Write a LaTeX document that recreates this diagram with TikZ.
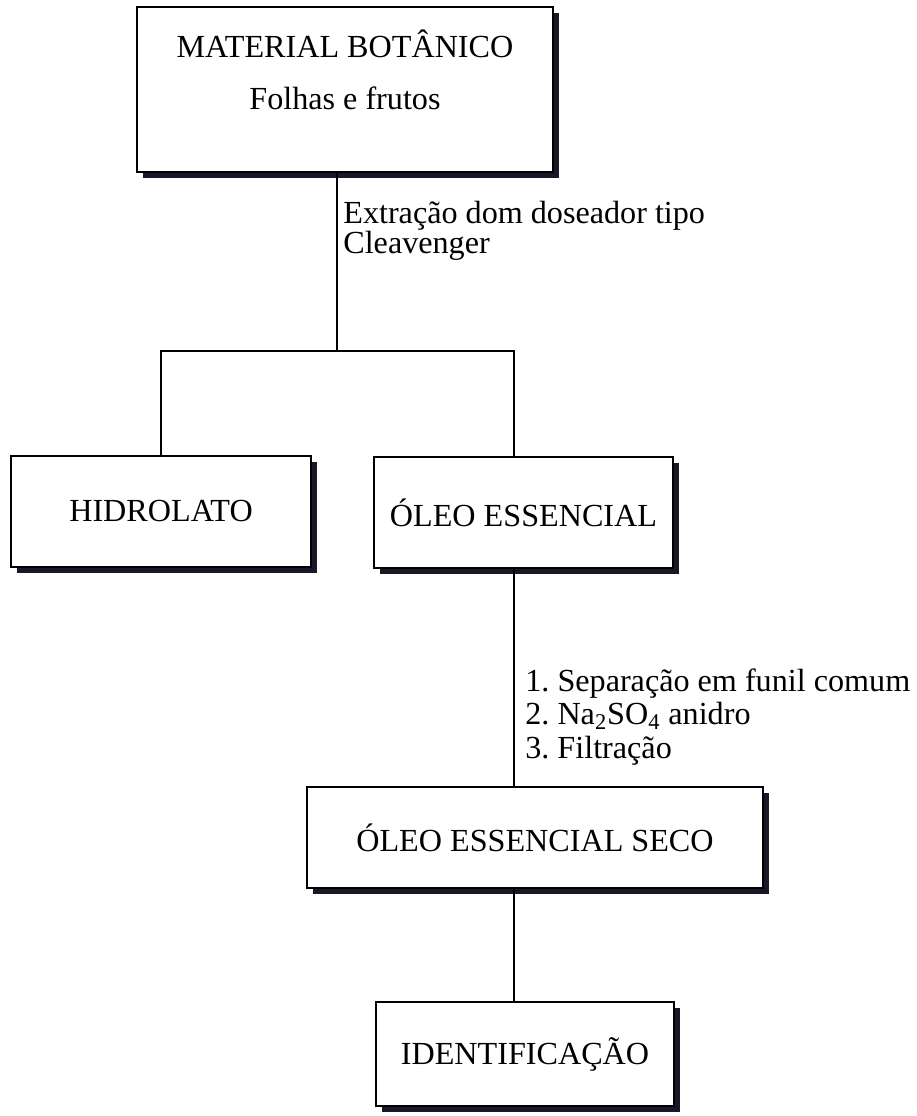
\documentclass[tikz,border=0pt]{standalone}
\usepackage{fontspec}
\setmainfont{Liberation Serif}
\usetikzlibrary{shadows}
\definecolor{shadowink}{RGB}{24,24,40}

\begin{document}
\begin{tikzpicture}[
    every node/.style={font=\fontsize{18.3}{17.6}\selectfont\frenchspacing},
    procbox/.style={draw=black,fill=white,line width=0.9pt,align=center,
        drop shadow={shadow xshift=0.12cm,shadow yshift=-0.12cm,
                     fill=shadowink,opacity=1}},
    note/.style={anchor=base west,align=left,inner sep=0pt},
    link/.style={line width=0.8pt}]
  \useasboundingbox (0,0) rectangle (18.32,-22.32);

  %% Process boxes
  \node[procbox,minimum width=8.32cm,minimum height=3.30cm,text depth=0.80cm]
        (mat) at (6.90,-1.79) {MATERIAL BOTÂNICO\\[12pt]Folhas e frutos};
  \node[procbox,minimum width=6.00cm,minimum height=2.22cm] (hid) at (3.22,-10.23)
        {HIDROLATO};
  \node[procbox,minimum width=5.98cm,minimum height=2.22cm] (oleo) at (10.47,-10.25)
        {ÓLEO ESSENCIAL};
  \node[procbox,minimum width=9.12cm,minimum height=2.02cm] (seco) at (10.70,-16.75)
        {ÓLEO ESSENCIAL SECO};
  \node[procbox,minimum width=5.96cm,minimum height=2.08cm] (ident) at (10.50,-21.08)
        {IDENTIFICAÇÃO};

  %% Branch point and main spine
  \coordinate (split) at (6.74,-7.02);
  \coordinate (spine) at (10.28,-7.02);

  %% Connectors
  \draw[link] (mat.south -| split) -- (split);
  \draw[link] (hid.north) -- (hid.north |- split) -- (split) -- (spine)
        -- (oleo.north -| spine);
  \draw[link] (oleo.south -| spine) -- (seco.north -| spine);
  \draw[link] (seco.south -| spine) -- (ident.north -| spine);

  %% Step notes (base = last line)
  \node[note] (extr) at (6.86,-5.08)
        {Extração dom doseador tipo\\Cleavenger};
  \node[note,font=\fontsize{18.3}{19}\selectfont\frenchspacing] (steps) at (10.50,-15.16)
        {1. Separação em funil comum\\2. Na\textsubscript{2}SO\textsubscript{4} anidro\\3. Filtração};
\end{tikzpicture}
\end{document}
